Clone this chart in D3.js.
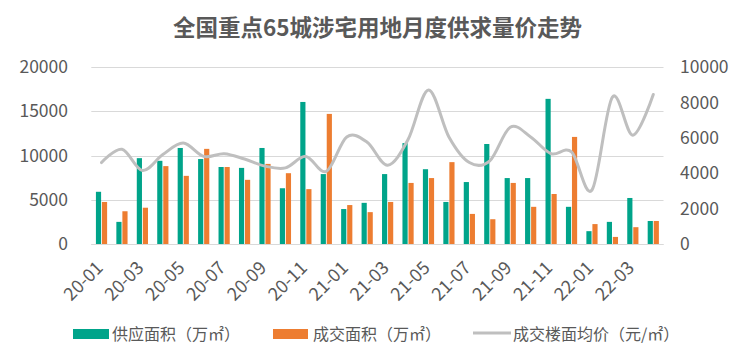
<!DOCTYPE html>
<html>
<head>
<meta charset="utf-8">
<script src="https://cdn.jsdelivr.net/npm/d3@7"></script>
<style>
  html, body { margin: 0; padding: 0; background: #fff; }
  svg { display: block; }
  text { font-family: "Noto Sans CJK SC", "Noto Sans", sans-serif; }
</style>
</head>
<body>
<svg id="chart" width="741" height="363"></svg>
<script>
const title = "全国重点65城涉宅用地月度供求量价走势";
const months = ["20-01","20-02","20-03","20-04","20-05","20-06","20-07","20-08","20-09","20-10","20-11","20-12",
                "21-01","21-02","21-03","21-04","21-05","21-06","21-07","21-08","21-09","21-10","21-11","21-12",
                "22-01","22-02","22-03","22-04"];
const supplyArea = [5900,2500,9700,9400,10850,9600,8700,8600,10850,6300,16050,7900,
                    3950,4650,7900,11400,8450,4750,7000,11300,7450,7450,16400,4200,
                    1450,2500,5200,2600];
const dealArea =   [4750,3700,4100,8800,7700,10750,8700,7250,9050,8000,6200,14700,
                    4400,3600,4750,6900,7450,9250,3400,2800,6900,4200,5650,12100,
                    2250,800,1900,2600];
const avgPrice =   [4600,5350,4150,5050,5700,4950,5100,4800,4400,4300,4950,4100,
                    6050,5750,4450,5900,8700,6050,4600,4700,6600,6050,5100,5200,
                    3050,8300,6150,8450];
const leftTicks = [0,5000,10000,15000,20000];
const rightTicks = [0,2000,4000,6000,8000,10000];
const seriesNames = ["供应面积（万㎡）","成交面积（万㎡）","成交楼面均价（元/㎡）"];
const colors = ["#00A48A","#ED7D31","#BFBFBF"];

const svg = d3.select("#chart");
const textColor = "#595959";

const x = d3.scaleBand().domain(months).range([91.3, 663.5]).paddingInner(0).paddingOuter(0);
const x1 = d3.scaleBand().domain(["s","d"]).range([-5.6, 5.6]).paddingInner(0.14);
const yL = d3.scaleLinear().domain([0, 20000]).range([244, 67]);
const yR = d3.scaleLinear().domain([0, 10000]).range([244, 67]);

// title
svg.append("text")
  .attr("x", 377.5).attr("y", 25.5)
  .attr("text-anchor", "middle").attr("dominant-baseline", "central")
  .attr("font-size", 22.5).attr("font-weight", "bold").attr("fill", textColor)
  .text(title);

// gridlines
svg.append("g").selectAll("line").data(leftTicks).join("line")
  .attr("x1", x.range()[0]).attr("x2", x.range()[1])
  .attr("y1", d => Math.round(yL(d)) + 0.5).attr("y2", d => Math.round(yL(d)) + 0.5)
  .attr("stroke", "#D9D9D9").attr("stroke-width", 1);

// left axis labels
const leftAxis = d3.axisLeft(yL).tickValues(leftTicks).tickSize(0).tickPadding(0).tickFormat(d3.format("d"));
const gl = svg.append("g").attr("transform", "translate(68,0)").call(leftAxis);
gl.select(".domain").remove();
gl.selectAll("text").attr("font-size", 17.5).attr("fill", textColor)
  .attr("font-family", "'Noto Sans CJK SC', sans-serif");

// right axis labels
const rightAxis = d3.axisRight(yR).tickValues(rightTicks).tickSize(0).tickPadding(0).tickFormat(d3.format("d"));
const gr = svg.append("g").attr("transform", "translate(680,0)").call(rightAxis);
gr.select(".domain").remove();
gr.selectAll("text").attr("font-size", 17.5).attr("fill", textColor)
  .attr("font-family", "'Noto Sans CJK SC', sans-serif");

// bars
const rows = months.map((m, i) => ({m, s: supplyArea[i], d: dealArea[i]}));
const groups = svg.append("g").selectAll("g").data(rows).join("g")
  .attr("transform", d => `translate(${x(d.m) + x.bandwidth() / 2},0)`);
groups.append("rect")
  .attr("x", x1("s")).attr("width", x1.bandwidth())
  .attr("y", d => yL(d.s)).attr("height", d => yL(0) - yL(d.s))
  .attr("fill", colors[0]);
groups.append("rect")
  .attr("x", x1("d")).attr("width", x1.bandwidth())
  .attr("y", d => yL(d.d)).attr("height", d => yL(0) - yL(d.d))
  .attr("fill", colors[1]);

// x axis baseline
svg.append("line")
  .attr("x1", x.range()[0]).attr("x2", x.range()[1])
  .attr("y1", 244.5).attr("y2", 244.5)
  .attr("stroke", "#D9D9D9").attr("stroke-width", 1);

// x labels
const xAxis = d3.axisBottom(x).tickValues(months.filter((m, i) => i % 2 === 0)).tickSize(0).tickPadding(0);
const gx = svg.append("g").attr("transform", "translate(0,0)").call(xAxis);
gx.select(".domain").remove();
gx.selectAll(".tick text")
  .attr("font-size", 18).attr("fill", textColor)
  .attr("font-family", "'Noto Sans CJK SC', sans-serif")
  .attr("text-anchor", "end")
  .attr("dy", 0).attr("y", 0)
  .attr("transform", "translate(2.5,269) rotate(-45)");

// price line
const line = d3.line()
  .x((d, i) => x(months[i]) + x.bandwidth() / 2)
  .y(d => yR(d))
  .curve(d3.curveCardinal.tension(0));
svg.append("path").datum(avgPrice)
  .attr("d", line).attr("fill", "none")
  .attr("stroke", colors[2]).attr("stroke-width", 3).attr("stroke-linecap", "round");

// legend
const lg = svg.append("g").attr("font-size", 16).attr("fill", textColor);
lg.append("rect").attr("x", 73).attr("y", 329).attr("width", 36).attr("height", 10).attr("fill", colors[0]);
lg.append("text").attr("x", 112).attr("y", 333).attr("dominant-baseline", "central").attr("fill", textColor).text(seriesNames[0]);
lg.append("rect").attr("x", 273).attr("y", 329).attr("width", 35).attr("height", 10).attr("fill", colors[1]);
lg.append("text").attr("x", 313).attr("y", 333).attr("dominant-baseline", "central").attr("fill", textColor).text(seriesNames[1]);
lg.append("line").attr("x1", 473).attr("x2", 511).attr("y1", 333).attr("y2", 333)
  .attr("stroke", colors[2]).attr("stroke-width", 3);
lg.append("text").attr("x", 513).attr("y", 333).attr("dominant-baseline", "central").attr("fill", textColor).text(seriesNames[2]);
</script>
</body>
</html>
